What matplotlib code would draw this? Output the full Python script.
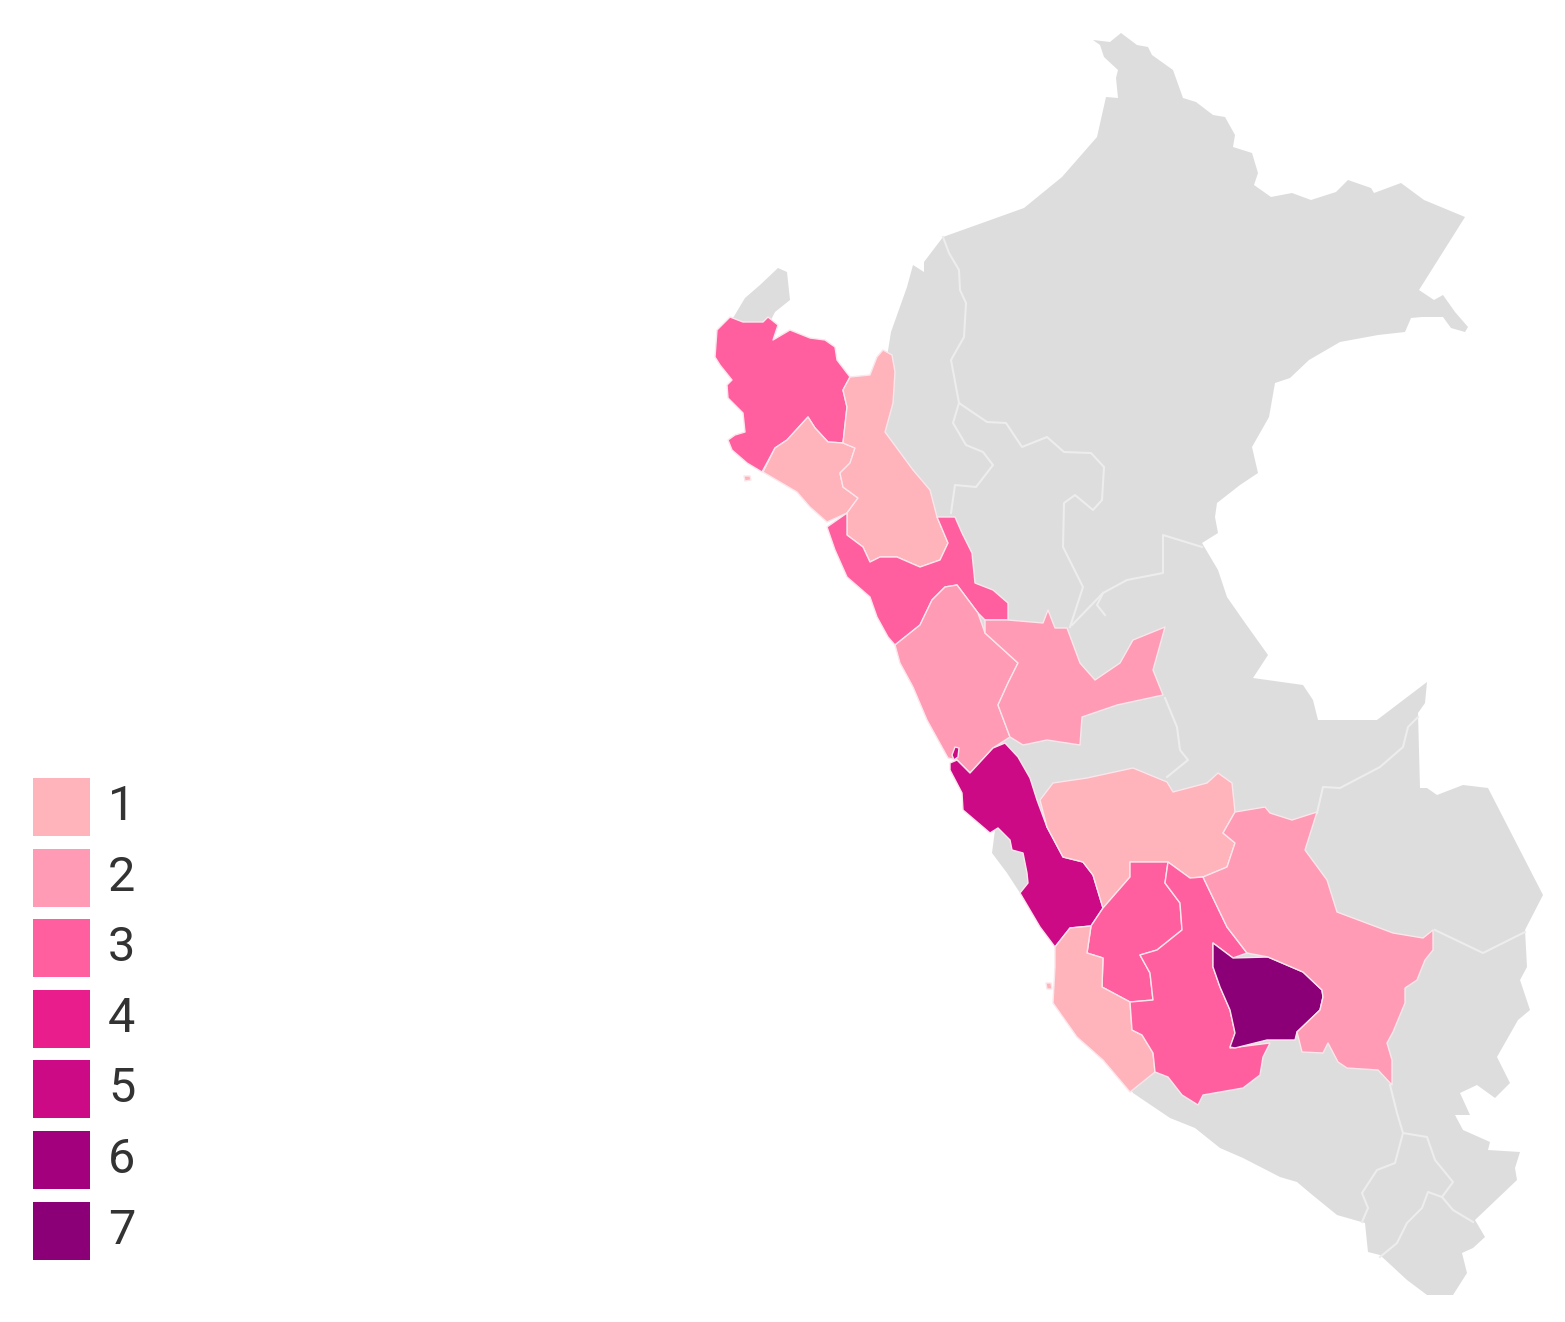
import matplotlib
matplotlib.use("Agg")
import matplotlib.pyplot as plt
from matplotlib.patches import Polygon, Rectangle

plt.rcParams['font.family'] = ['Roboto', 'DejaVu Sans']

# legend
levels = [1, 2, 3, 4, 5, 6, 7]
level_colors = ["#FFB3BB", "#FF9BB4", "#FF5F9F", "#E91E8C", "#CC0A85", "#A3007D", "#8B0077"]
no_data_color = "#DDDDDD"

# outline of the country, in image pixels
peru = [(891,332),(907,287),(913,265),(924,272),(924,262),(943,237),(1024,208),(1062,177),(1097,137),(1106,97),
        (1118,98),(1116,78),(1118,70),(1104,57),(1100,45),(1093,40),(1110,42),(1121,33),(1137,45),(1148,47),
        (1152,55),(1173,70),(1183,98),(1196,102),(1213,115),(1225,117),(1235,135),(1233,147),(1252,153),(1258,173),
        (1254,185),(1271,197),(1292,193),(1311,200),(1336,192),(1348,180),(1371,188),(1374,193),(1401,183),(1424,200),
        (1465,217),(1419,290),(1434,300),(1443,295),(1455,312),(1468,327),(1465,332),(1451,328),(1443,317),(1422,317),
        (1411,318),(1405,332),(1378,335),(1340,342),(1309,360),(1290,378),(1275,383),(1269,417),(1252,447),(1258,473),
        (1240,485),(1217,503),(1215,517),(1218,533),(1202,543),(1218,570),(1227,597),(1243,620),(1268,655),(1253,678),
        (1303,685),(1313,700),(1318,720),(1377,720),(1427,682),(1425,703),(1418,713),(1420,788),(1427,788),(1437,795),
        (1463,785),(1488,788),(1543,895),(1525,930),(1527,967),(1520,980),(1530,1010),(1518,1020),(1497,1057),
        (1510,1083),(1495,1098),(1477,1085),(1460,1093),(1470,1115),(1455,1115),(1463,1130),(1490,1142),(1488,1150),
        (1520,1152),(1515,1168),(1517,1180),(1475,1220),(1485,1237),(1473,1248),(1462,1253),(1467,1273),(1453,1295),
        (1427,1295),(1407,1280),(1380,1255),(1368,1252),(1365,1223),(1337,1215),(1310,1193),(1297,1182),(1280,1177),
        (1243,1158),(1220,1148),(1195,1128),(1170,1118),(1133,1093),(1100,1040),(1075,960),(1040,920),(1020,893),
        (1007,873),(992,853),(995,830),(1000,800),(960,700),(910,600),(860,480),(880,400)]
tumbes = [(733,318),(745,298),(760,285),(778,268),(787,272),(790,300),(775,312),(770,322),(740,325)]

piura = [(730,317),(743,322),(763,322),(768,317),(778,325),(773,340),(790,330),(810,338),(825,340),(835,347),
         (837,360),(850,377),(843,390),(847,407),(843,443),(828,442),(815,428),(808,417),(787,440),
         (775,448),(762,472),(747,463),(732,450),(728,440),(735,435),(745,432),(743,413),(728,398),(727,385),
         (732,380),(720,365),(715,357),(717,330)]
lambayeque = [(763,472),(775,448),(787,440),(808,417),(815,428),(828,442),(843,443),(855,448),(850,463),(840,473),
              (843,487),(858,498),(847,513),(827,522),(810,507),(797,492),(780,482)]
cajamarca = [(883,350),(892,355),(895,372),(893,403),(885,432),(913,470),(930,490),(937,517),(948,543),(940,560),
             (920,567),(897,557),(880,557),(870,562),(863,547),(847,535),(847,513),(858,498),(843,487),(840,473),
             (850,463),(855,448),(843,443),(847,407),(843,390),(850,377),(870,375),(877,357)]
la_libertad = [(827,527),(847,513),(847,535),(863,547),(870,562),(880,557),(897,557),(920,567),(940,560),(948,543),
               (937,517),(955,517),(962,533),(972,553),(975,583),(993,590),(1008,603),(1008,620),(985,620),(978,613),
               (957,585),(945,587),(932,600),(920,625),(895,645),(888,637),(877,617),(870,597),(847,577),(835,550)]
ancash = [(895,645),(920,625),(932,600),(945,587),(957,585),(978,613),(985,633),(1018,663),(1008,683),(998,705),
          (1010,737),(993,748),(970,773),(957,760),(948,758),(927,720),(913,687),(900,663)]
huanuco = [(985,620),(1008,620),(1043,623),(1048,610),(1055,628),(1067,628),(1080,663),(1095,680),(1120,663),
           (1133,640),(1165,627),(1153,670),(1163,695),(1117,705),(1082,717),(1080,745),(1047,740),(1023,745),
           (1010,737),(998,705),(1008,683),(1018,663),(985,633)]
lima = [(950,763),(957,760),(970,773),(993,748),(1005,743),(1018,757),(1030,778),(1037,800),(1047,827),(1063,857),
        (1083,862),(1093,875),(1103,908),(1091,926),(1070,928),(1055,947),(1040,927),(1020,893),(1028,883),(1027,873),
        (1023,853),(1012,850),(1010,840),(998,828),(990,833),(963,810),(962,793),(950,770)]
junin = [(1040,800),(1053,783),(1087,778),(1133,768),(1167,782),(1173,792),(1207,783),(1218,773),(1232,783),
         (1235,812),(1223,833),(1235,843),(1227,867),(1203,877),(1190,878),(1168,862),(1130,862),(1130,877),
         (1103,908),(1093,875),(1083,862),(1063,857),(1047,827)]
huancavelica = [(1130,862),(1168,862),(1165,883),(1180,903),(1182,930),(1157,950),(1140,955),(1150,973),(1153,1000),
                (1130,1002),(1102,987),(1103,958),(1087,953),(1091,926),(1103,908),(1130,877)]
ica = [(1055,947),(1070,928),(1091,926),(1087,953),(1103,958),(1102,987),(1130,1002),(1132,1030),(1142,1035),
       (1153,1053),(1155,1072),(1130,1092),(1103,1060),(1077,1037),(1053,1003),(1055,967)]
ayacucho = [(1168,862),(1190,878),(1203,877),(1227,927),(1247,953),(1233,958),(1213,943),(1213,967),(1220,987),
            (1230,1010),(1235,1033),(1230,1048),(1270,1043),(1263,1057),(1260,1075),(1243,1088),(1203,1095),(1198,1105),
            (1182,1095),(1168,1077),(1155,1072),(1153,1053),(1142,1035),(1132,1030),(1130,1002),(1153,1000),(1150,973),
            (1140,955),(1157,950),(1182,930),(1180,903),(1165,883)]
apurimac = [(1213,943),(1233,958),(1268,957),(1303,972),(1322,990),(1323,997),(1320,1010),(1297,1032),(1295,1040),
            (1267,1040),(1235,1048),(1230,1047),(1235,1033),(1230,1010),(1220,987),(1213,967)]
cusco = [(1203,877),(1227,867),(1235,843),(1223,833),(1235,812),(1265,807),(1270,813),(1292,820),(1317,812),
         (1305,850),(1327,880),(1337,912),(1393,933),(1423,938),(1433,930),(1433,950),(1425,960),(1417,980),(1405,988),
         (1405,1003),(1393,1032),(1387,1043),(1392,1060),(1392,1085),(1378,1070),(1347,1068),(1338,1062),(1328,1043),
         (1323,1053),(1302,1052),(1297,1032),(1320,1010),(1323,997),(1322,990),(1303,972),(1268,957),(1247,953),
         (1227,927)]
lobos_island = [(744,476),(750,476),(751,480),(745,481)]
ica_island = [(1046,983),(1051,983),(1052,989),(1047,989)]
lima_island = [(952,755),(955,747),(959,748),(958,757),(954,760)]

regions = [piura, lambayeque, cajamarca, la_libertad, ancash, huanuco, lima, junin, huancavelica,
           ica, ayacucho, apurimac, cusco, lobos_island, ica_island, lima_island]
region_levels = [3, 1, 1, 3, 2, 2, 5, 1, 3, 1, 3, 7, 2, 1, 1, 5]

# borders between the regions with no data
border_loreto = [(943,237),(949,253),(959,270),(960,290),(966,303),(964,337),(951,360),(959,403),(987,422),(1006,423),
                 (1022,447),(1047,437),(1064,452),(1091,453),(1104,467),(1102,500),(1093,510),(1075,495),(1064,503),
                 (1063,547),(1083,587),(1070,627)]
border_san_martin = [(959,403),(953,423),(966,445),(983,452),(993,465),(976,487),(955,485),(951,513)]
border_ucayali = [(1072,625),(1103,593),(1127,580),(1163,573),(1163,535),(1202,547)]
border_spur = [(1103,593),(1097,605),(1105,615)]
border_pasco = [(1165,698),(1177,727),(1180,750),(1188,760),(1167,777)]
border_madre = [(1317,813),(1323,787),(1340,788),(1380,767),(1403,747),(1408,727),(1418,717)]
border_puno_north = [(1435,930),(1483,953),(1525,932)]
border_puno = [(1390,1085),(1397,1113),(1403,1133),(1427,1137),(1435,1160),(1453,1182),(1442,1197),(1453,1210),(1473,1222)]
border_moquegua = [(1403,1133),(1395,1163),(1377,1170),(1362,1193),(1368,1208),(1362,1222)]
border_tacna = [(1442,1197),(1428,1192),(1422,1208),(1407,1223),(1397,1243),(1380,1257)]
borders = [border_loreto, border_san_martin, border_ucayali, border_spur, border_pasco, border_madre,
           border_puno_north, border_puno, border_moquegua, border_tacna]

fig = plt.figure(figsize=(15.65, 13.22), dpi=100)
ax = fig.add_axes([0, 0, 1, 1])
ax.set_xlim(0, 1565)
ax.set_ylim(1322, 0)
ax.axis("off")

ax.add_patch(Polygon(peru, closed=True, facecolor=no_data_color, edgecolor="none"))
ax.add_patch(Polygon(tumbes, closed=True, facecolor=no_data_color, edgecolor="none"))

for b in borders:
    ax.plot([p[0] for p in b], [p[1] for p in b], color="#EDEDED", lw=1.5, solid_joinstyle="round")

for poly, lev in zip(regions, region_levels):
    ax.add_patch(Polygon(poly, closed=True, facecolor=level_colors[lev - 1], edgecolor="#FBE6EC",
                         lw=1.0, joinstyle="round"))

# legend
for i, lev in enumerate(levels):
    y = 778 + i * 70.6
    ax.add_patch(Rectangle((33, y), 57, 58, facecolor=level_colors[i], edgecolor="none"))
    ax.text(108, y + 29, str(lev), fontsize=35, color="#333333", ha="left", va="center")

fig.savefig("out.png", dpi=100, facecolor="white")
